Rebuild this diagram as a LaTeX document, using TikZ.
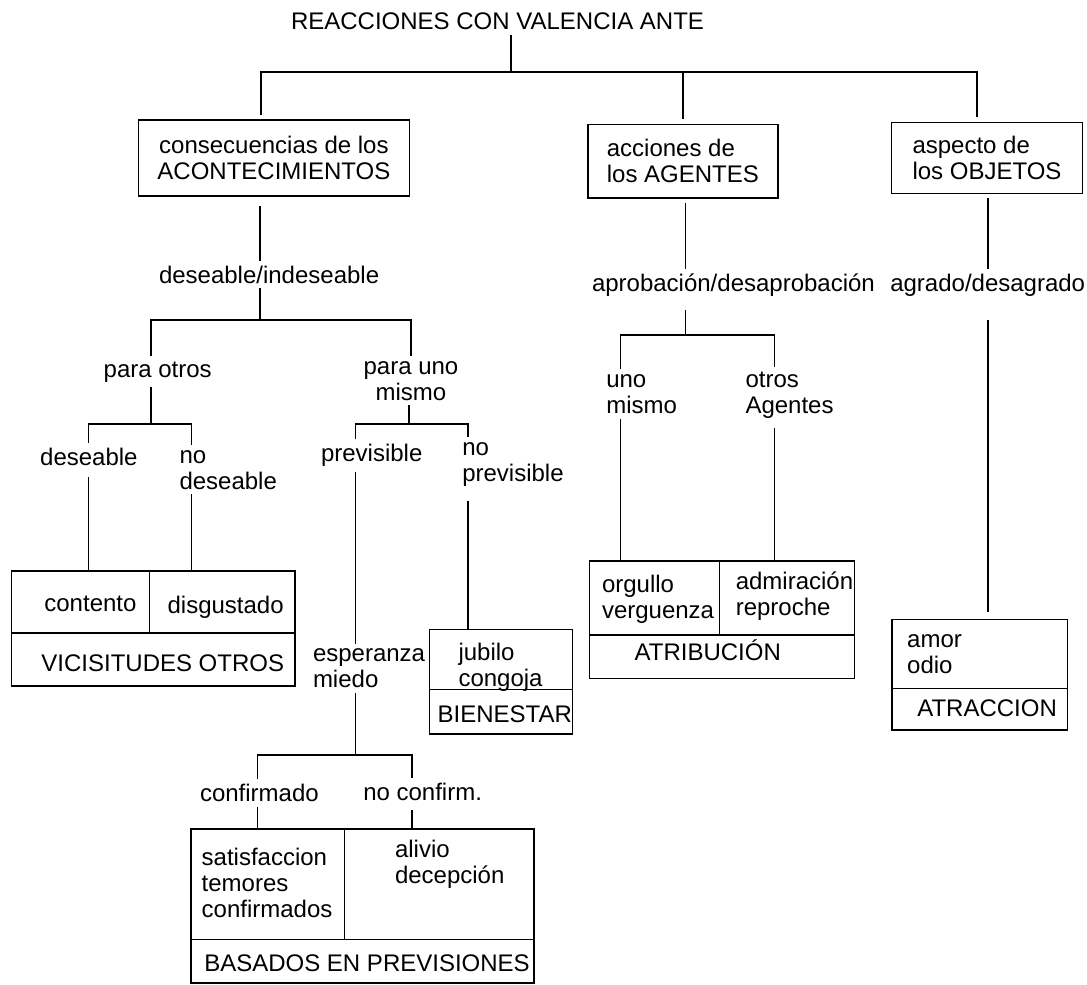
\documentclass[tikz,border=0pt]{standalone}
\usepackage{fontspec}
\setmainfont{Liberation Sans}
\usetikzlibrary{fit}

\begin{document}
\begin{tikzpicture}[x=1pt, y=-1pt,
  font=\fontsize{24}{26}\selectfont,
  rama/.style={line width=1.6pt},
  caja/.style={draw, line width=1.6pt, inner sep=0pt, outer sep=5pt},
  celda/.style={draw, line width=1.6pt, inner sep=0pt, outer sep=0pt},
  etq/.style={inner sep=0pt, outer sep=5pt, anchor=base west, align=left}]
  \useasboundingbox (0,0) rectangle (1087,985);

  % raiz y primer nivel
  \node[etq] (raiz) at (286,29.5) {REACCIONES CON VALENCIA ANTE};
  \coordinate (jRaiz) at (511,72);
  \coordinate (barI) at (261,72);
  \coordinate (barD) at (977,72);

  \node[caja, minimum width=270.8pt, minimum height=76pt, align=center] (acont) at (273.9,158) {consecuencias de los\\ACONTECIMIENTOS};
  \node[caja, minimum width=190.1pt, minimum height=73.4pt, align=left] (agent) at (682.85,161) {acciones de\\los AGENTES};
  \node[caja, minimum width=190.8pt, minimum height=71pt, align=left] (aspec) at (987,157.8) {aspecto de\\los OBJETOS};

  \draw[rama] (raiz.south -| jRaiz) -- (jRaiz);
  \draw[rama] (barI |- acont.north) -- (barI) -- (barD) -- (barD |- aspec.north);
  \draw[rama] (agent.north |- barI) -- (agent.north);

  % etiquetas (las de dos lineas van por la linea de abajo)
  \node[etq] (desI) at (154,283) {deseable/indeseable};
  \node[etq] (aprob) at (587,291.7) {aprobación/desaprobación};
  \node[etq] (agrad) at (885.3,291) {agrado/desagrado};
  \node[etq] (paraOtros) at (98.7,377) {para otros};
  \node[etq, anchor=base, align=center] (paraUno) at (411,400) {para uno\\mismo};
  \node[etq] (des) at (35.2,465) {deseable};
  \node[etq] (noDes) at (174.5,489) {no\\deseable};
  \node[etq] (prev) at (316,461.7) {previsible};
  \node[etq] (noPrev) at (457.3,481) {no\\previsible};
  \node[etq] (esp) at (308,687.7) {esperanza\\miedo};
  \node[etq] (conf) at (195,801.7) {confirmado};
  \node[etq] (noConf) at (358.3,800) {no confirm.};
  \node[etq] (unoM) at (601.3,413.3) {uno\\mismo};
  \node[etq] (otrosA) at (740.5,413.3) {otros\\Agentes};

  % celdas
  \node[celda, fit={(11.5,570.7) (149.3,632.7)}] (vicA) {};
  \node[celda, fit={(149.3,570.7) (294.7,632.7)}] (vicB) {};
  \node[celda, fit={(11.5,632.7) (294.7,686)}] (vicC) {};
  \node[celda, fit={(429.4,629.3) (572.5,689.5)}] (jubA) {};
  \node[celda, fit={(429.4,689.5) (572.5,734)}] (jubB) {};
  \node[celda, fit={(191,829) (344.3,939.5)}] (basA) {};
  \node[celda, fit={(344.3,829) (534,939.5)}] (basB) {};
  \node[celda, fit={(191,939.5) (534,983)}] (basC) {};
  \node[celda, fit={(589.6,561) (719.3,635)}] (atrA) {};
  \node[celda, fit={(719.3,561) (854.5,635)}] (atrB) {};
  \node[celda, fit={(589.6,635) (854.5,678.3)}] (atrC) {};
  \node[celda, fit={(892.1,619.3) (1067.6,688.3)}] (atcA) {};
  \node[celda, fit={(892.1,688.3) (1067.6,730)}] (atcB) {};

  \node[etq] (tContento) at (39.4,611.7) {contento};
  \node[etq] (tDisgust) at (162.6,613) {disgustado};
  \node[etq] (tVicis) at (36.4,671.7) {VICISITUDES OTROS};
  \node[etq] (tJubilo) at (453.5,686.2) {jubilo\\congoja};
  \node[etq] (tBienestar) at (432.7,722.7) {BIENESTAR};
  \node[etq] (tSatisf) at (196.7,917.5) {satisfaccion\\temores\\confirmados};
  \node[etq] (tAlivio) at (390,883.3) {alivio\\decepción};
  \node[etq] (tBasados) at (199.3,971.7) {BASADOS EN PREVISIONES};
  \node[etq] (tOrgullo) at (597,618.8) {orgullo\\verguenza};
  \node[etq] (tAdmir) at (730.8,615.5) {admiración\\reproche};
  \node[etq] (tAtrib) at (629.6,660.7) {ATRIBUCIÓN};
  \node[etq] (tAmor) at (902.2,673.8) {amor\\odio};
  \node[etq] (tAtracc) at (912.3,716.7) {ATRACCION};

  % rama acontecimientos
  \coordinate (jA) at (260,320);
  \coordinate (jA1) at (151,320);
  \coordinate (jA2) at (411,320);
  \draw[rama, shorten <=5pt] (acont.south -| jA) -- (desI.north -| jA);
  \draw[rama] (desI.south -| jA) -- (jA);
  \draw[rama] (paraOtros.north -| jA1) -- (jA1) -- (jA2) -- (paraUno.north -| jA2);

  \coordinate (jB) at (151,424);
  \coordinate (jB1) at (88.4,424);
  \coordinate (jB2) at (191.3,424);
  \draw[rama] (paraOtros.south -| jB) -- (jB);
  \draw[rama] (des.north -| jB1) -- (jB1) -- (jB2) -- (noDes.north -| jB2);
  \draw[rama, shorten <=7pt] (des.south -| jB1) -- (vicA.north -| jB1);
  \draw[rama] (noDes.south -| jB2) -- (vicB.north -| jB2);

  \coordinate (jC) at (409,424);
  \coordinate (jC1) at (355.5,424);
  \coordinate (jC2) at (468,424);
  \draw[rama] (paraUno.south -| jC) -- (jC);
  \draw[rama] (prev.north -| jC1) -- (jC1) -- (jC2) -- (noPrev.north -| jC2);
  \draw[rama] (prev.south -| jC1) -- (esp.north -| jC1);
  \draw[rama, shorten <=10pt] (noPrev.south -| jC2) -- (jubA.north -| jC2);

  \coordinate (jD) at (355.5,754.7);
  \coordinate (jD1) at (257.5,754.7);
  \coordinate (jD2) at (412,754.7);
  \draw[rama] (esp.south -| jD) -- (jD);
  \draw[rama] (conf.north -| jD1) -- (jD1) -- (jD2) -- (noConf.north -| jD2);
  \draw[rama] (conf.south -| jD1) -- (basA.north -| jD1);
  \draw[rama, shorten <=5pt] (noConf.south -| jD2) -- (basB.north -| jD2);

  % rama agentes
  \coordinate (jE) at (685.5,335);
  \coordinate (jE1) at (620.5,335);
  \coordinate (jE2) at (774.5,335);
  \draw[rama] (agent.south -| jE) -- (aprob.north -| jE);
  \draw[rama, shorten <=8pt] (aprob.south -| jE) -- (jE);
  \draw[rama] (unoM.north -| jE1) -- (jE1) -- (jE2) -- (otrosA.north -| jE2);
  \draw[rama] (unoM.south -| jE1) -- (atrA.north -| jE1);
  \draw[rama, shorten <=5pt] (otrosA.south -| jE2) -- (atrB.north -| jE2);

  % rama objetos
  \draw[rama] (aspec.south -| agrad.north) -- (agrad.north);
  \draw[rama, shorten <=19pt, shorten >=7pt] (agrad.south) -- (agrad.south |- atcA.north);
\end{tikzpicture}
\end{document}
